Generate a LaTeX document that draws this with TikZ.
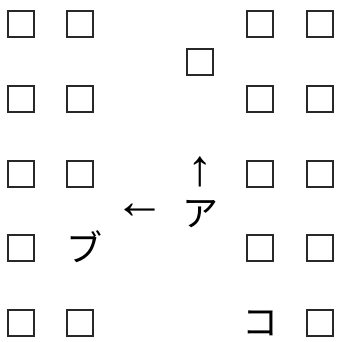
\documentclass[tikz,border=0pt]{standalone}
\usepackage{fontspec}
\newfontfamily\jpfont{Noto Sans CJK JP}
\newfontfamily\arrowfont{Liberation Serif}
\usetikzlibrary{positioning}
\definecolor{BoxGray}{RGB}{40,40,40}
\tikzset{
  cell/.style={draw=BoxGray, line width=2.2pt, minimum size=26.5pt, inner sep=0pt},
  kana/.style={font=\jpfont\fontsize{36}{36}\selectfont, inner sep=0pt},
  arrowsym/.style={font=\arrowfont\fontsize{51}{51}\selectfont, inner sep=0pt},
}

\begin{document}
\begin{tikzpicture}[x=1pt,y=-1pt]
  \useasboundingbox (0,0) rectangle (342,342);
  % left columns
  \foreach \r/\y in {1/24,2/99,3/174,4/248,5/323} {
    \node[cell] (la\r) at (21,\y) {};
  }
  \foreach \r/\y in {1/24,2/99,3/174,5/323} {
    \node[cell] (lb\r) at (80,\y) {};
  }
  \node[kana] (bu) at (84,247) {ブ};
  % middle
  \node[cell] (mid) at (200,62) {};
  \node[arrowsym] (up) at (200,172) {↑};
  \node[arrowsym] (left) at (140,211) {←};
  \node[kana] (a) at (200,214) {ア};
  % right columns
  \foreach \r/\y in {1/24,2/99,3/174,4/248} {
    \node[cell] (ra\r) at (260,\y) {};
  }
  \node[kana] (ko) at (260,323) {コ};
  \foreach \r/\y in {1/24,2/99,3/174,4/248,5/323} {
    \node[cell] (rb\r) at (320,\y) {};
  }
\end{tikzpicture}
\end{document}
